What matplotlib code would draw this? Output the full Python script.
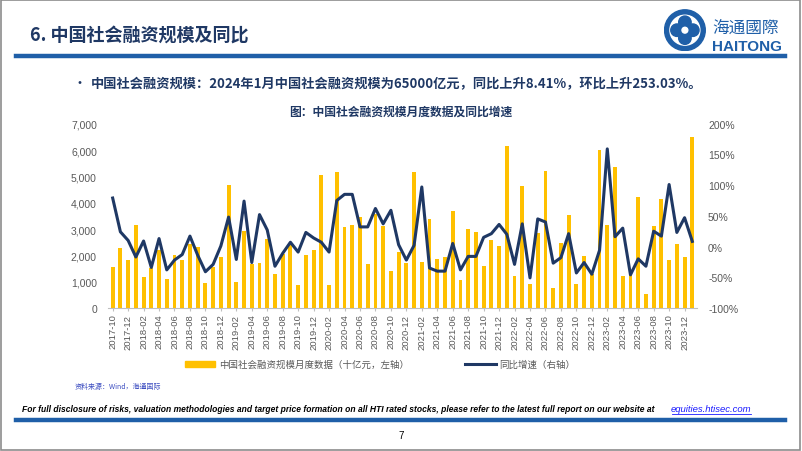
import numpy as np
import pandas as pd
import matplotlib
matplotlib.use('Agg')
import matplotlib.pyplot as plt
from matplotlib.patches import Rectangle, Circle
from matplotlib.lines import Line2D

plt.rcParams['font.family'] = ['Noto Sans CJK SC', 'DejaVu Sans']

# monthly data, 2017-10 .. 2024-01
months = pd.date_range('2017-10-01', '2024-01-01', freq='MS').strftime('%Y-%m').tolist()

tsf = [1570, 2280, 1810, 3160, 1190, 1500, 2215, 1115, 2025, 1810,
       2420, 2320, 950, 1560, 1925, 4670, 985, 2925, 1660, 1720,
       2620, 1280, 2040, 2405, 860, 2000, 2190, 5050, 860, 5165,
       3090, 3165, 3455, 1685, 3580, 3130, 1390, 2125, 1710, 5170,
       1730, 3375, 1855, 1955, 3700, 1070, 2990, 2890, 1600, 2590,
       2365, 6160, 1220, 4625, 915, 2830, 5190, 760, 2470, 3530,
       920, 1980, 1300, 5985, 3150, 5360, 1225, 1300, 4200, 530,
       3125, 4140, 1840, 2445, 1935, 6500]

yoy = [79, 24, 10, -17, 9, -34, 13, -38, -22, -13,
       17, -14, -41, -29, 1, 48, -21, 74, -26, 52,
       27, -32, -11, 7, -9, 23, 14, 7, -9, 75,
       85, 85, 32, 32, 62, 37, 59, 3, -22, 2,
       97, -35, -40, -40, 5, -38, -16, -16, 15, 21,
       36, 20, -29, 37, -51, 45, 40, -27, -18, 21,
       -43, -26, -45, -6, 159, 16, 30, -46, -20, -32,
       25, 17, 101, 23, 47, 8.41]

navy = '#1F3864'
blue = '#1F5FA8'
gold = '#FFC000'
gray = '#595959'

fig = plt.figure(figsize=(8.02, 4.52), dpi=100)

# page frame
fig.patches.append(Rectangle((0.001, 0.002), 0.997, 0.996, transform=fig.transFigure,
                             fill=False, edgecolor='#8c8c8c', linewidth=1.2))

# header
fig.text(0.037, 0.922, '6. 中国社会融资规模及同比', fontsize=13, fontweight='bold',
         color=navy, va='center')
fig.add_artist(Line2D([0.02, 0.979], [0.873, 0.873], color=blue, linewidth=3.2))

# logo
logo = fig.add_axes([0.828, 0.885, 0.052, 0.092])
logo.set_xlim(-1, 1)
logo.set_ylim(-1, 1)
logo.set_aspect('equal')
logo.axis('off')
logo.add_patch(Circle((0, 0), 0.98, color=blue))
logo.add_patch(Circle((0, 0), 0.72, color='white'))
for ang in [0, 90, 180, 270]:
    a = np.deg2rad(ang)
    logo.add_patch(Circle((0.38 * np.cos(a), 0.38 * np.sin(a)), 0.3, color=blue))
logo.add_patch(Circle((0, 0), 0.14, color='white'))
fig.text(0.888, 0.937, '海通國際', fontsize=12, color=blue, va='center')
fig.text(0.888, 0.895, 'HAITONG', fontsize=11, fontweight='bold', color=blue,
         va='center', family='Liberation Sans')

# bullet + chart title
fig.text(0.091, 0.814, '•', fontsize=10, color=navy, va='center')
fig.text(0.113, 0.814, '中国社会融资规模：2024年1月中国社会融资规模为65000亿元，同比上升8.41%，环比上升253.03%。',
         fontsize=9.5, color=navy, va='center', fontweight='bold')
fig.text(0.5, 0.752, '图：中国社会融资规模月度数据及同比增速', fontsize=8.5, color=navy,
         va='center', ha='center', fontweight='bold')

# chart
ax = fig.add_axes([0.1347, 0.3164, 0.7343, 0.4077])
x = np.arange(len(months))
ax.bar(x, tsf, width=0.5, color=gold, zorder=2)
ax.set_ylim(0, 7000)
ax.set_xlim(-0.6, len(months) - 0.4)
ax.set_yticks(range(0, 7001, 1000))
ax.set_yticklabels([f'{v:,}' for v in range(0, 7001, 1000)], family='Liberation Sans',
                   fontsize=7.5, color=gray)
ax.set_xticks(x[::2])
ax.set_xticklabels(months[::2], rotation=90, family='Liberation Sans', fontsize=6.8,
                   color=gray)
ax.tick_params(axis='x', length=2, color='#bfbfbf', pad=2)
ax.tick_params(axis='y', length=0, pad=8)
for s in ['top', 'right', 'left']:
    ax.spines[s].set_visible(False)
ax.spines['bottom'].set_color('#bfbfbf')

ax2 = ax.twinx()
ax2.plot(x, yoy, color=navy, linewidth=2.2, zorder=3)
ax2.set_ylim(-100, 200)
ax2.set_yticks(range(-100, 201, 50))
ax2.set_yticklabels([f'{v}%' for v in range(-100, 201, 50)], family='Liberation Sans',
                    fontsize=7.5, color=gray)
ax2.tick_params(axis='y', length=0, pad=8)
for s in ['top', 'right', 'left', 'bottom']:
    ax2.spines[s].set_visible(False)

handles = [Rectangle((0, 0), 1, 1, color=gold),
           Line2D([0], [0], color=navy, linewidth=2.2)]
fig.legend(handles, ['中国社会融资规模月度数据（十亿元，左轴）', '同比增速（右轴）'],
           loc='center', bbox_to_anchor=(0.474, 0.192), ncol=2, frameon=False,
           fontsize=6.8, labelcolor=gray, handlelength=3.2, handleheight=0.6,
           columnspacing=6, handletextpad=0.4)

# footer
fig.text(0.093, 0.144, '资料来源：Wind，海通国际', fontsize=5, color='#3b4cc0', va='center')
fig.text(0.027, 0.095, 'For full disclosure of risks, valuation methodologies and target price '
         'formation on all HTI rated stocks, please refer to the latest full report on our website at',
         fontsize=6.15, style='italic', fontweight='bold', color='black', va='center',
         family='Liberation Sans')
fig.text(0.936, 0.095, 'equities.htisec.com', fontsize=6.8, style='italic', color='#1a1aff',
         va='center', ha='right', family='Liberation Sans')
fig.add_artist(Line2D([0.838, 0.936], [0.082, 0.082], color='#1a1aff', linewidth=0.6))
fig.add_artist(Line2D([0.02, 0.979], [0.068, 0.068], color=blue, linewidth=3.2))
fig.text(0.5, 0.035, '7', fontsize=7, color='black', ha='center', va='center',
         family='Liberation Sans')

fig.savefig('out.png', dpi=100)
